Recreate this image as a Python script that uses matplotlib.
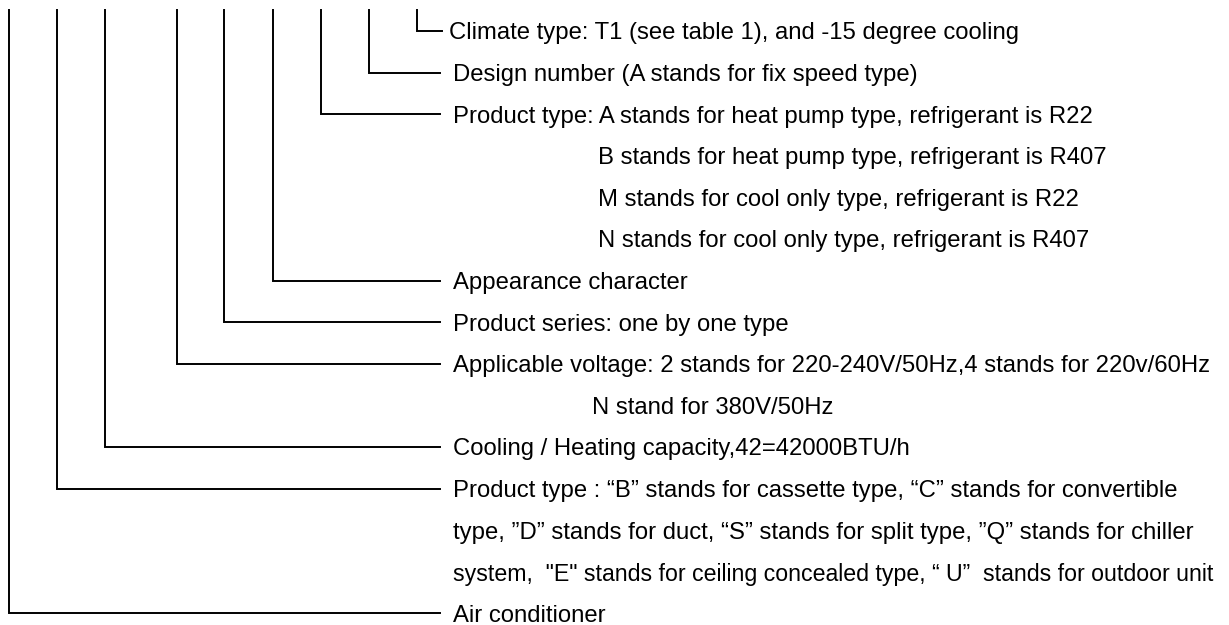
import matplotlib
matplotlib.use("Agg")
import matplotlib.pyplot as plt

plt.rcParams.update({"font.family": ["Liberation Sans", "DejaVu Sans"], "font.size": 17.2})
INK = "#000000"

# each coded field: x of its leader line, row of its first text line
lead_x = [417, 369, 321, 273, 224, 177, 105, 57, 8.5]
lead_row = [0, 1, 2, 6, 7, 8, 10, 11, 14]

# text lines: row, indent x, text
rows = [0, 1, 2, 3, 4, 5, 6, 7, 8, 9, 10, 11, 12, 13, 14]
indent = [449, 453, 453, 598, 598, 598, 453, 453, 453, 592, 453, 453, 453, 453, 453]
texts = [
    "Climate type: T1 (see table 1), and -15 degree cooling",
    "Design number (A stands for fix speed type)",
    "Product type: A stands for heat pump type, refrigerant is R22",
    "B stands for heat pump type, refrigerant is R407",
    "M stands for cool only type, refrigerant is R22",
    "N stands for cool only type, refrigerant is R407",
    "Appearance character",
    "Product series: one by one type",
    "Applicable voltage: 2 stands for 220-240V/50Hz,4 stands for 220v/60Hz",
    "N stand for 380V/50Hz",
    "Cooling / Heating capacity,42=42000BTU/h",
    "Product type : \u201cB\u201d stands for cassette type, \u201cC\u201d stands for convertible",
    "type, \u201dD\u201d stands for duct, \u201cS\u201d stands for split type, \u201dQ\u201d stands for chiller",
    "system,  \"E\" stands for ceiling concealed type, \u201c U\u201d  stands for outdoor unit",
    "Air conditioner",
]
RIGHT_LIMIT = 1215  # squeeze any line that would run past this

Y0, DY, TOP, END_X = 31, 41.6, 10, 440

fig = plt.figure(figsize=(12.29, 6.25), dpi=100)
ax = fig.add_axes([0, 0, 1, 1])
ax.set_xlim(0, 1229); ax.set_ylim(625, 0); ax.axis("off")

for x, r in zip(lead_x, lead_row):
    y = Y0 + DY * r
    end = 442 if r == 0 else END_X
    ax.plot([x, x, end], [TOP, y, y], color=INK, lw=1.4, solid_joinstyle="miter")

rend = fig.canvas.get_renderer()
for r, xi, t in zip(rows, indent, texts):
    txt = ax.text(xi, Y0 + DY * r, t, ha="left", va="center_baseline", color=INK)
    bb = txt.get_window_extent(rend)
    if bb.x1 > RIGHT_LIMIT:
        txt.set_fontsize(txt.get_fontsize() * (RIGHT_LIMIT - 3 - bb.x0) / bb.width)

fig.savefig("out.png", dpi=100)
